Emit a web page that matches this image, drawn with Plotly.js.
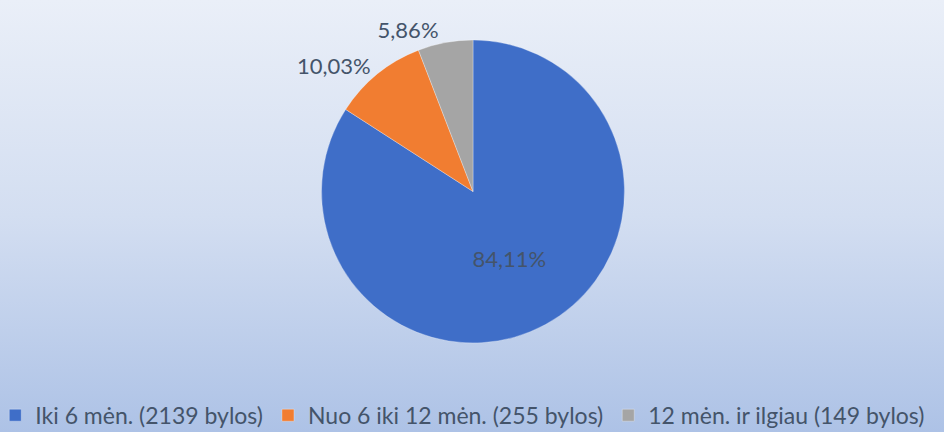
<!DOCTYPE html>
<html>
<head>
<meta charset="utf-8">
<script src="https://cdn.plot.ly/plotly-3.0.1.min.js"></script>
<style>
html,body{margin:0;padding:0;}
#chart{width:944px;height:432px;background:linear-gradient(to bottom,#eaeff8 0%,#d3def1 50%,#adc2e6 100%);}
</style>
</head>
<body>
<div id="chart"></div>
<script>
const categories = ["Iki 6 mėn. (2139 bylos)", "Nuo 6 iki 12 mėn. (255 bylos)", "12 mėn. ir ilgiau (149 bylos)"];
const values = [2139, 255, 149];
const percentLabels = ["84,11%", "10,03%", "5,86%"];
const colors = ["#3f6ec8", "#f17d31", "#a5a5a5"];

const trace = {
  type: "pie",
  labels: categories,
  values: values,
  text: percentLabels,
  textinfo: "text",
  textposition: ["inside", "outside", "outside"],
  insidetextorientation: "horizontal",
  sort: false,
  direction: "clockwise",
  rotation: 0,
  marker: {colors: colors, line: {color: "rgba(255,255,255,0.6)", width: 0.5}},
  textfont: {family: "Lato, 'Open Sans', sans-serif", size: 22, color: "#44546a"},
  insidetextfont: {color: "#44546a"},
  outsidetextfont: {color: "#44546a"},
  domain: {x: [321.5/944, 624.5/944], y: [(432-343)/432, (432-40)/432]},
  automargin: false,
  hoverinfo: "label+percent"
};

const layout = {
  width: 944, height: 432,
  margin: {l: 0, r: 0, t: 0, b: 0, autoexpand: false},
  paper_bgcolor: "rgba(0,0,0,0)",
  plot_bgcolor: "rgba(0,0,0,0)",
  showlegend: true,
  legend: {
    orientation: "h",
    x: -0.005, xanchor: "left",
    y: -0.011, yanchor: "bottom",
    font: {family: "Lato, 'Open Sans', sans-serif", size: 23, color: "#44546a"},
    traceorder: "normal",
    itemwidth: 30,
    bgcolor: "rgba(0,0,0,0)"
  }
};

Plotly.newPlot("chart", [trace], layout, {displayModeBar: false, staticPlot: true});
</script>
</body>
</html>
